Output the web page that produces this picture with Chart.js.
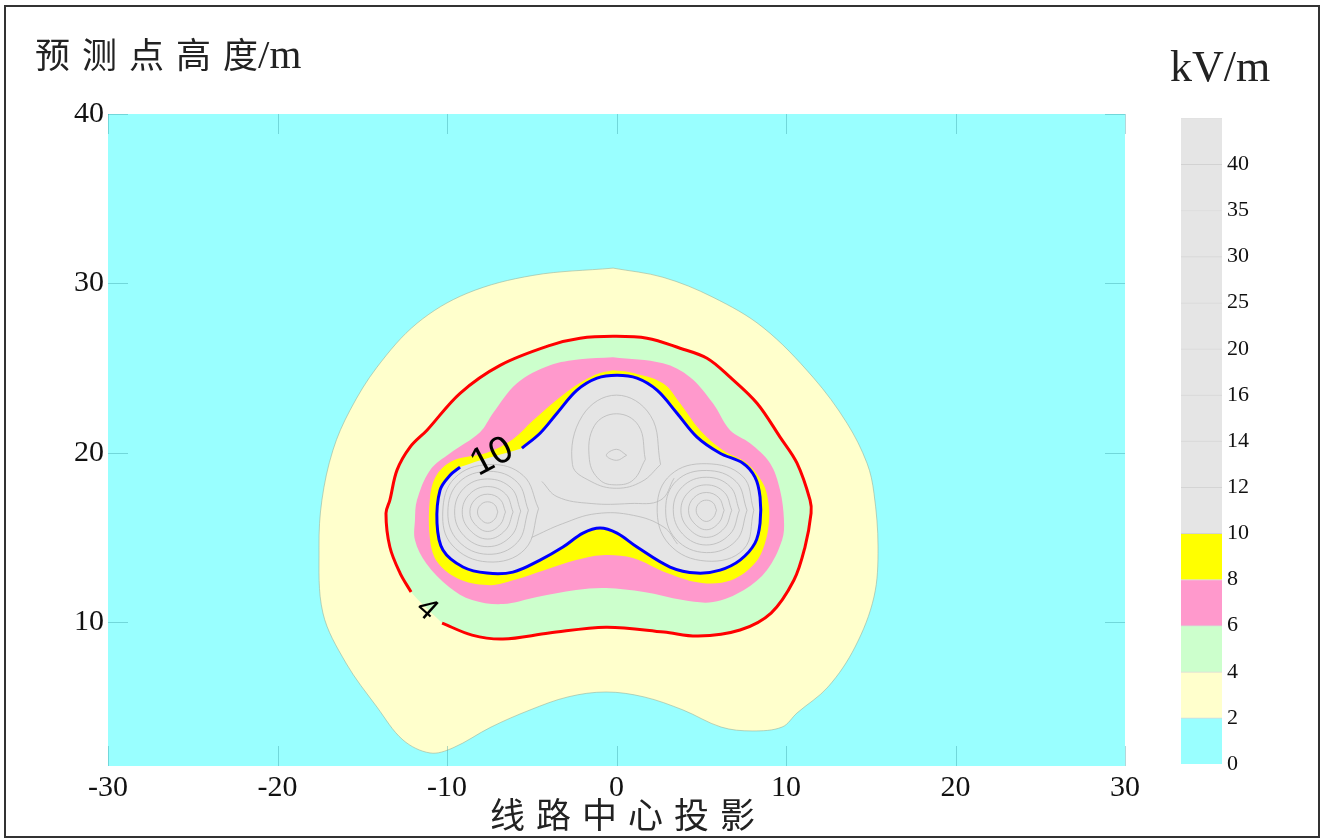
<!DOCTYPE html>
<html>
<head>
<meta charset="utf-8">
<script src="https://cdn.jsdelivr.net/npm/chart.js@4.4.1/dist/chart.umd.min.js"></script>
<style>
body{margin:0;background:#fff;width:1322px;height:839px;overflow:hidden;position:relative;font-family:"Liberation Serif",serif;color:#222}
#main{position:absolute;left:0;top:0}
#bar{position:absolute;left:1150px;top:100px}
#frame{position:absolute;left:4px;top:5px;width:1316px;height:833px;border:2px solid #333;box-sizing:border-box;pointer-events:none}
.cjk{font-family:"Liberation Serif","Noto Sans CJK SC",serif;position:absolute;line-height:1;white-space:nowrap}
#ytitle{left:35px;top:34px;font-size:35px}
#ytitle .sp{letter-spacing:12px}
#ytitle .u{font-size:41px}
#xtitle{left:490px;top:799px;font-size:35px;letter-spacing:11px}
#unit{position:absolute;left:1170px;top:45px;font-size:44px;line-height:1}
</style>
</head>
<body>
<canvas id="main" width="1322" height="839"></canvas>
<canvas id="bar" width="140" height="690"></canvas>
<div id="ytitle" class="cjk"><span class="sp">预测点高</span>度<span class="u">/m</span></div>
<div id="xtitle" class="cjk">线路中心投影</div>
<div id="unit">kV/m</div>
<div id="frame"></div>
<script>
/* ============ DATA ============ */
const xTicks=[-30,-20,-10,0,10,20,30];
const yTicks=[10,20,30,40];

// contour 2 kV/m (cream edge)
const c2=[[-0.2,30.9],[2.74,30.36],[5.69,29.18],[8.64,27.4],[11.59,24.46],[13.6,21.74],[14.78,19.38],[15.19,17.61],[15.43,14.43],[15.19,11.48],[14.07,8.52],[12.48,6.17],[10.65,4.63],[9.77,3.8],[8.0,3.57],[6.17,3.8],[3.92,4.81],[1.62,5.58],[-0.62,5.87],[-2.86,5.58],[-5.1,4.81],[-7.4,3.8],[-9.65,2.57],[-11.0,2.27],[-12.6,3.04],[-14.13,4.98],[-15.96,7.58],[-17.32,10.53],[-17.55,14.43],[-17.38,17.2],[-16.73,20.15],[-15.72,22.51],[-14.13,25.05],[-11.77,27.64],[-8.82,29.41],[-4.93,30.47]];
// contour 4 kV/m (red line), starts/ends at the label gap
const c4=[[-10.29,9.94],[-8.52,9.23],[-6.7,9.0],[-3.98,9.35],[-0.62,9.7],[2.8,9.41],[4.81,9.17],[7.29,9.53],[9.12,10.53],[10.47,12.48],[11.12,14.43],[11.48,16.43],[11.42,17.2],[10.65,19.38],[9.65,20.92],[8.29,22.92],[6.7,24.46],[5.34,25.58],[3.75,26.17],[1.8,26.76],[-0.21,26.87],[-2.15,26.76],[-3.92,26.34],[-6.87,25.16],[-9.23,23.51],[-11.18,21.33],[-12.18,20.33],[-12.95,18.97],[-13.37,17.2],[-13.6,16.43],[-13.37,14.43],[-12.77,12.89],[-12.12,11.77]];
// contour 6 kV/m
const c6=[[-0.21,25.64],[2.74,25.28],[4.34,24.46],[5.69,22.92],[6.7,21.33],[7.88,20.56],[9.06,19.38],[9.65,17.79],[9.88,16.02],[9.77,14.84],[8.88,13.07],[7.52,11.89],[5.69,11.18],[3.92,11.3],[1.62,11.77],[-0.62,12.01],[-2.39,11.89],[-4.69,11.48],[-6.7,11.06],[-8.52,11.3],[-9.88,12.07],[-11.24,13.48],[-11.89,14.84],[-11.89,16.02],[-11.77,17.2],[-11.0,18.97],[-9.82,19.97],[-8.05,21.21],[-7.29,22.33],[-5.87,24.1],[-3.92,25.16],[-2.15,25.52]];
// contour 8 kV/m
const c8=[[-0.21,24.87],[0.8,24.75],[2.74,24.1],[3.75,22.92],[4.93,21.33],[6.28,20.15],[7.7,19.38],[8.64,18.2],[8.94,17.2],[9.0,16.02],[8.76,14.66],[8.17,13.48],[6.81,12.48],[5.04,12.3],[2.98,12.89],[0.97,13.78],[-0.86,13.95],[-2.39,13.66],[-4.22,13.07],[-6.05,12.48],[-7.4,12.18],[-9.17,12.48],[-10.53,13.48],[-11.0,14.84],[-11.0,17.38],[-10.6,18.7],[-9.6,19.55],[-7.64,20.0],[-6.11,20.8],[-4.93,21.9],[-2.92,23.6],[-1.27,24.6]];
// contour 10 kV/m (blue line), starts/ends at the label gap
const c10=[[-5.58,20.27],[-4.51,21.15],[-3.51,22.33],[-2.33,23.69],[-1.15,24.4],[0.03,24.57],[1.21,24.4],[2.39,23.69],[3.57,22.33],[4.75,20.92],[6.11,19.97],[7.46,19.38],[8.17,18.56],[8.47,17.38],[8.47,15.84],[8.17,14.66],[7.29,13.66],[6.11,13.07],[4.75,12.89],[3.16,13.25],[1.21,14.43],[0.03,15.25],[-0.97,15.55],[-1.98,15.25],[-3.16,14.43],[-4.51,13.66],[-6.11,12.95],[-7.64,12.89],[-9.06,13.25],[-10.24,14.25],[-10.59,15.84],[-10.41,17.79],[-9.82,18.67],[-9.23,19.15]];

// thin grey contours above 10 kV/m
const innerRings=[
[[-7.0,16.5],[-7.18,16.92],[-7.6,17.1],[-8.02,16.92],[-8.2,16.5],[-8.02,16.08],[-7.6,15.84],[-7.18,16.08]],
[[-6.55,16.5],[-6.86,17.24],[-7.6,17.55],[-8.34,17.24],[-8.65,16.5],[-8.34,15.76],[-7.6,15.35],[-6.86,15.76]],
[[-6.1,16.5],[-6.54,17.56],[-7.6,18.0],[-8.66,17.56],[-9.1,16.5],[-8.66,15.44],[-7.6,14.9],[-6.54,15.44]],
[[-5.65,16.55],[-6.2,17.9],[-7.6,18.45],[-9.0,17.9],[-9.55,16.5],[-9.0,15.1],[-7.6,14.45],[-6.2,15.1]],
[[-5.2,16.6],[-5.85,18.25],[-7.5,18.9],[-9.3,18.25],[-9.95,16.5],[-9.35,14.8],[-7.6,14.0],[-5.85,14.7]],
[[-4.6,16.7],[-5.5,18.65],[-7.5,19.3],[-9.55,18.5],[-10.25,16.5],[-9.7,14.55],[-7.6,13.55],[-5.4,14.3]],
[[5.9,16.6],[5.72,17.02],[5.3,17.2],[4.88,17.02],[4.7,16.6],[4.88,16.18],[5.3,15.94],[5.72,16.18]],
[[6.35,16.6],[6.04,17.34],[5.3,17.65],[4.56,17.34],[4.25,16.6],[4.56,15.86],[5.3,15.45],[6.04,15.86]],
[[6.8,16.6],[6.36,17.66],[5.3,18.1],[4.24,17.66],[3.8,16.6],[4.24,15.54],[5.3,15.0],[6.36,15.54]],
[[7.25,16.6],[6.7,18.0],[5.3,18.55],[3.9,18.0],[3.35,16.65],[3.9,15.2],[5.3,14.55],[6.7,15.2]],
[[7.7,16.6],[7.05,18.3],[5.3,18.95],[3.55,18.35],[2.9,16.7],[3.5,14.9],[5.3,14.1],[7.05,14.8]],
[[8.1,16.6],[7.45,18.6],[5.3,19.35],[3.2,18.7],[2.4,16.8],[3.1,14.6],[5.3,13.6],[7.5,14.3]],
[[0.6,19.85],[0,20.2],[-0.6,19.85],[0,19.55]],
[[1.7,19.6],[1.3,21.6],[0,22.3],[-1.3,21.6],[-1.6,19.6],[-1.0,18.4],[0,18.1],[1.0,18.4]],
[[2.6,19.3],[2.0,22.2],[0,23.4],[-2.0,22.2],[-2.6,19.3],[-1.5,18.3],[0,17.9],[1.5,18.3]]
];
const innerLines=[
[[-5.0,15.0],[-3.2,15.8],[-1.2,16.4],[1.0,16.3],[2.8,15.6],[3.6,14.6]],
[[-4.4,18.3],[-3.5,17.4],[-1.5,17.0],[0.8,17.0],[2.6,17.2],[3.4,18.5]]
];

// contour labels
const labText=["10","4"];
const labX=[-7.34,-11.2];
const labY=[19.74,10.75];
const labRot=[-28,42];
const labSize=[38,31];

// colour bar
const cbLevels=["0","2","4","6","8","10","12","14","16","20","25","30","35","40"];
const cbColors=["#99ffff","#ffffcc","#ccffcc","#ff99cc","#ffff00","#e5e5e5","#e5e5e5","#e5e5e5","#e5e5e5","#e5e5e5","#e5e5e5","#e5e5e5","#e5e5e5","#e5e5e5"];

/* ============ HELPERS ============ */
const pts=a=>a.map(p=>({x:p[0],y:p[1]}));
const closed=a=>pts(a.concat([a[0]]));

function area(a,color,order,edge){
return {data:closed(a),fill:'shape',backgroundColor:color,borderColor:edge||'rgba(0,0,0,0)',borderWidth:edge?0.8:0,pointRadius:0,tension:0.35,order};
}

const datasets=[
area(c2,"#ffffcc",20,"rgba(150,175,150,0.7)"),
area(c4,"#ccffcc",19),
area(c6,"#ff99cc",18),
area(c8,"#ffff00",17),
area(c10,"#e5e5e5",16)
];
innerRings.forEach(r=>datasets.push({data:closed(r),borderColor:"#b9b9b9",borderWidth:0.8,fill:false,pointRadius:0,tension:0.4,order:10}));
innerLines.forEach(r=>datasets.push({data:pts(r),borderColor:"#b9b9b9",borderWidth:0.8,fill:false,pointRadius:0,tension:0.4,order:10}));
datasets.push({data:pts(c4),borderColor:"#ff0000",borderWidth:3,fill:false,pointRadius:0,tension:0.35,order:1});
datasets.push({data:pts(c10),borderColor:"#0000ff",borderWidth:3,fill:false,pointRadius:0,tension:0.35,order:1});

/* ============ PLUGINS ============ */
const bg={id:'bg',beforeDatasetsDraw(c){
const {ctx,chartArea:a}=c;
ctx.save();ctx.fillStyle="#99ffff";ctx.fillRect(a.left,a.top,a.width,a.height);ctx.restore();
}};

const inTicks={id:'inTicks',afterDatasetsDraw(c){
const {ctx,chartArea:a,scales:{x,y}}=c;
ctx.save();
ctx.strokeStyle="rgba(40,140,150,0.35)";ctx.lineWidth=1;
ctx.beginPath();
xTicks.forEach(v=>{
const p=Math.round(x.getPixelForValue(v))+0.5;
ctx.moveTo(p,a.bottom);ctx.lineTo(p,a.bottom-20);
ctx.moveTo(p,a.top);ctx.lineTo(p,a.top+20);
});
yTicks.forEach(v=>{
const p=Math.round(y.getPixelForValue(v))+0.5;
ctx.moveTo(a.left,p);ctx.lineTo(a.left+20,p);
ctx.moveTo(a.right,p);ctx.lineTo(a.right-20,p);
});
ctx.stroke();
// contour labels
ctx.fillStyle="#000";ctx.textAlign="center";ctx.textBaseline="middle";
labText.forEach((t,i)=>{
ctx.save();
ctx.translate(x.getPixelForValue(labX[i]),y.getPixelForValue(labY[i]));
ctx.rotate(labRot[i]*Math.PI/180);
ctx.font=labSize[i]+'px "Liberation Sans",Arial,sans-serif';
ctx.fillText(t,0,0);
ctx.restore();
});
ctx.restore();
}};

/* ============ MAIN CHART ============ */
new Chart(document.getElementById("main"),{
type:"line",
data:{datasets},
options:{
responsive:false,animation:false,devicePixelRatio:1,
layout:{padding:{left:68,top:114,right:197,bottom:33}},
plugins:{legend:{display:false},tooltip:{enabled:false}},
scales:{
x:{type:"linear",min:-30,max:30,
afterBuildTicks:s=>{s.ticks=xTicks.map(v=>({value:v}));},
afterFit:s=>{s.height=40;},
grid:{display:false,drawTicks:false},border:{display:false},
ticks:{padding:4,color:"#111",font:{family:"Liberation Serif",size:30},maxRotation:0,autoSkip:false}},
y:{type:"linear",min:1.5,max:40,
afterBuildTicks:s=>{s.ticks=yTicks.map(v=>({value:v}));},
afterFit:s=>{s.width=40;},
grid:{display:false,drawTicks:false},border:{display:false},
ticks:{padding:4,color:"#111",font:{family:"Liberation Serif",size:30}}}
}
},
plugins:[bg,inTicks]
});

/* ============ COLOUR BAR ============ */
new Chart(document.getElementById("bar"),{
type:"bar",
data:{labels:[""],datasets:cbColors.map((c,i)=>({data:[1],backgroundColor:c,borderColor:"rgba(0,0,0,0.16)",borderWidth:{top:1},borderSkipped:false,barPercentage:1,categoryPercentage:1}))},
options:{
responsive:false,animation:false,devicePixelRatio:1,
layout:{padding:{left:31,top:16,bottom:26,right:0}},
plugins:{legend:{display:false},tooltip:{enabled:false}},
scales:{
x:{display:false,stacked:true},
y:{position:"right",stacked:true,min:0,max:14,
afterBuildTicks:s=>{s.ticks=cbLevels.map((t,i)=>({value:i}));},
afterFit:s=>{s.width=68;},
grid:{display:false,drawTicks:false},border:{display:false},
ticks:{padding:5,color:"#111",font:{family:"Liberation Serif",size:22},callback:(v,i)=>cbLevels[i]}}
}
}
});
</script>
</body>
</html>
